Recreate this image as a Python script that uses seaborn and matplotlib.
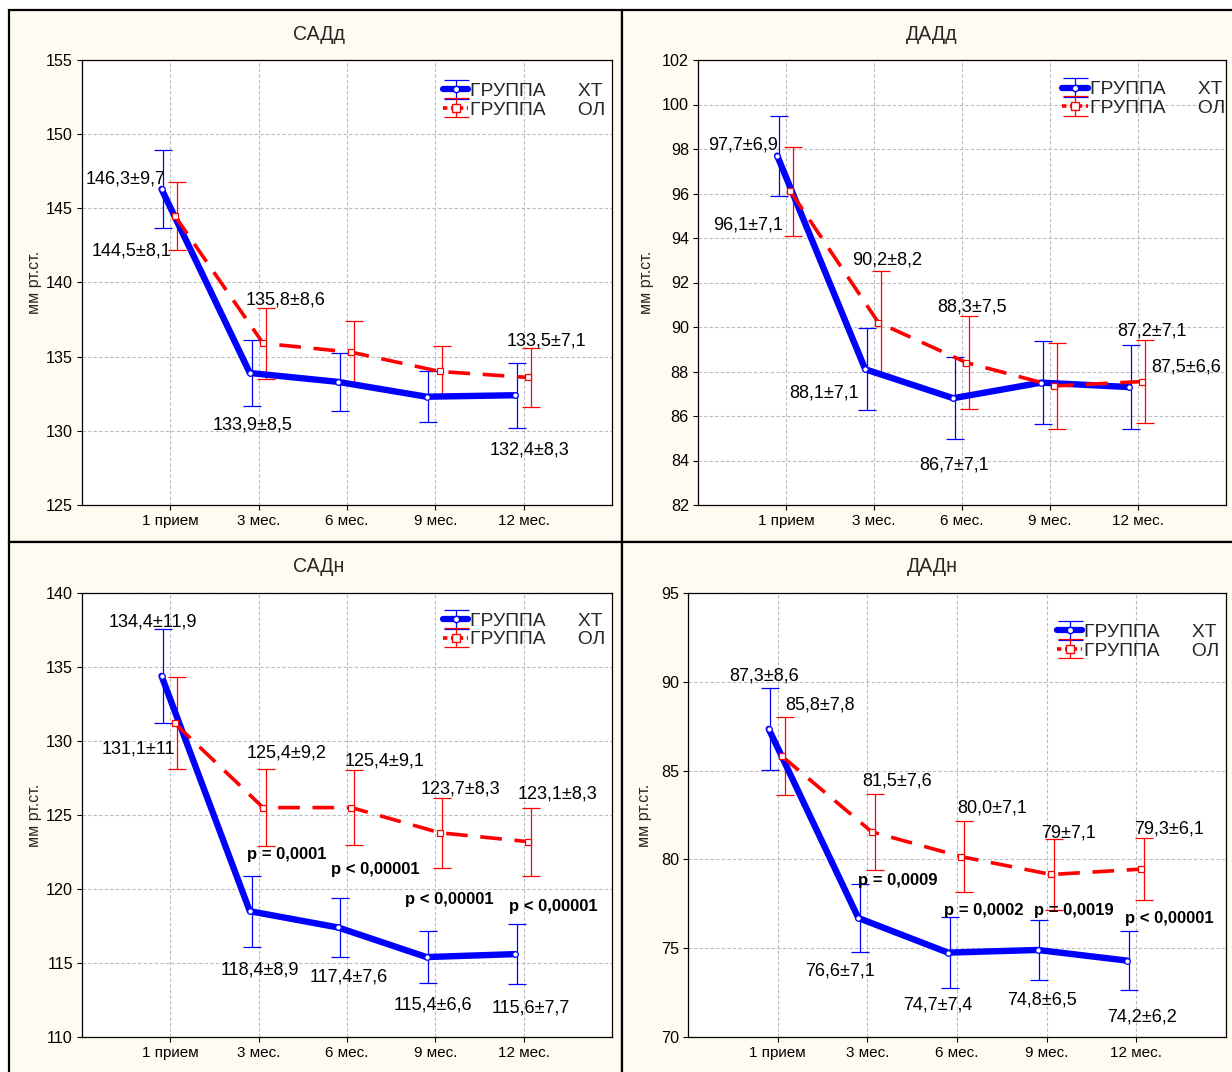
import numpy as np
import pandas as pd
import matplotlib
matplotlib.use("Agg")
import matplotlib.pyplot as plt
import seaborn as sns
from matplotlib import font_manager as fm
from matplotlib.patches import Rectangle

# ---------------- data ----------------
categories = ['1 прием', '3 мес.', '6 мес.', '9 мес.', '12 мес.']
group_labels = ['ГРУППА      ХТ', 'ГРУППА      ОЛ']

# САДд
sadd_xt = [146.3, 133.9, 133.3, 132.3, 132.4]
sadd_xt_err = [2.6, 2.25, 1.95, 1.7, 2.2]
sadd_ol = [144.5, 135.9, 135.3, 134.0, 133.6]
sadd_ol_err = [2.3, 2.4, 2.1, 1.75, 2.0]

# ДАДд
dadd_xt = [97.7, 88.1, 86.8, 87.5, 87.3]
dadd_xt_err = [1.8, 1.85, 1.85, 1.85, 1.9]
dadd_ol = [96.1, 90.2, 88.4, 87.35, 87.55]
dadd_ol_err = [2.0, 2.3, 2.1, 1.95, 1.85]

# САДн
sadn_xt = [134.4, 118.5, 117.4, 115.4, 115.6]
sadn_xt_err = [3.2, 2.4, 2.0, 1.75, 2.05]
sadn_ol = [131.2, 125.5, 125.5, 123.8, 123.2]
sadn_ol_err = [3.1, 2.6, 2.55, 2.35, 2.3]

# ДАДн
dadn_xt = [87.35, 76.7, 74.75, 74.9, 74.3]
dadn_xt_err = [2.3, 1.9, 2.0, 1.7, 1.65]
dadn_ol = [85.8, 81.55, 80.15, 79.15, 79.45]
dadn_ol_err = [2.2, 2.15, 2.0, 2.0, 1.75]

# value annotations
sadd_labels = ['146,3±9,7', '144,5±8,1', '135,8±8,6', '133,9±8,5', '133,5±7,1', '132,4±8,3']
dadd_labels = ['97,7±6,9', '96,1±7,1', '90,2±8,2', '88,3±7,5', '88,1±7,1', '86,7±7,1', '87,2±7,1', '87,5±6,6']
sadn_labels = ['134,4±11,9', '131,1±11', '125,4±9,2', '125,4±9,1', '123,7±8,3', '123,1±8,3',
               '118,4±8,9', '117,4±7,6', '115,4±6,6', '115,6±7,7']
sadn_pvals = ['p = 0,0001', 'p < 0,00001', 'p < 0,00001', 'p < 0,00001']
dadn_labels = ['87,3±8,6', '85,8±7,8', '81,5±7,6', '80,0±7,1', '79±7,1', '79,3±6,1',
               '76,6±7,1', '74,7±7,4', '74,8±6,5', '74,2±6,2']
dadn_pvals = ['p = 0,0009', 'p = 0,0002', 'p = 0,0019', 'p < 0,00001']

titles = ['САДд', 'ДАДд', 'САДн', 'ДАДн']
ylabel = 'мм рт.ст.'

# ---------------- layout (positions only) ----------------
sadd_label_pos = [(0.49, 147.0), (0.56, 142.1), (2.30, 138.8), (1.93, 130.4), (5.26, 136.05), (5.07, 128.7)]
dadd_label_pos = [(0.51, 98.18), (0.57, 94.58), (2.15, 93.0), (3.11, 90.9), (1.43, 87.03),
                  (2.91, 83.8), (5.16, 89.82), (5.55, 88.2)]
sadn_label_pos = [(0.80, 138.04), (0.64, 129.46), (2.32, 129.19), (3.42, 128.65), (4.28, 126.76),
                  (5.38, 126.42), (2.01, 114.53), (3.02, 114.05), (3.97, 112.16), (5.08, 111.96)]
sadn_p_pos = [(2.32, 122.36), (3.32, 121.35), (4.16, 119.26), (5.33, 118.8)]
dadn_label_pos = [(0.85, 90.33), (1.47, 88.69), (2.33, 84.41), (3.39, 82.9), (4.24, 81.5),
                  (5.37, 81.71), (1.70, 73.72), (2.79, 71.8), (3.95, 72.1), (5.06, 71.13)]
dadn_p_pos = [(2.34, 78.8), (3.30, 77.15), (4.30, 77.15), (5.37, 76.7)]

W, H = 1232, 1072
CREAM = '#FFFBF0'
BLUE = '#0000FF'
RED = '#FF0000'

sns.set_theme(style='white')
avail = {f.name for f in fm.fontManager.ttflist}
NARROW = 'Liberation Sans Narrow' if 'Liberation Sans Narrow' in avail else 'Liberation Sans'
narrow_scale = 1.0 if NARROW == 'Liberation Sans Narrow' else 0.88
plt.rcParams['font.family'] = ['Liberation Sans', 'DejaVu Sans']

fig = plt.figure(figsize=(W / 100, H / 100), dpi=100, facecolor='white')

# panel boxes
for (x0, y0, x1, y1) in [(9, 10, 622, 542), (622, 10, 1240, 542), (9, 542, 622, 1080), (622, 542, 1240, 1080)]:
    fig.patches.append(Rectangle((x0 / W, 1 - y1 / H), (x1 - x0) / W, (y1 - y0) / H,
                                 transform=fig.transFigure, facecolor=CREAM, edgecolor='black',
                                 linewidth=1.6, zorder=0))

axes_px = [(82, 60, 612, 505), (698, 60, 1226, 505), (82, 593, 612, 1037), (688, 593, 1226, 1037)]
title_px = [(319, 35), (932, 35), (319, 566), (932, 566)]
ylab_px = [(35, 282), (647, 282), (35, 815), (645, 815)]
legend_anchor = [(0.995, 0.958), (1.005, 0.962), (0.995, 0.965), (0.995, 0.94)]

panels = [
    (sadd_xt, sadd_xt_err, sadd_ol, sadd_ol_err, (125, 155), np.arange(125, 156, 5), sadd_labels, sadd_label_pos, [], []),
    (dadd_xt, dadd_xt_err, dadd_ol, dadd_ol_err, (82, 102), np.arange(82, 103, 2), dadd_labels, dadd_label_pos, [], []),
    (sadn_xt, sadn_xt_err, sadn_ol, sadn_ol_err, (110, 140), np.arange(110, 141, 5), sadn_labels, sadn_label_pos, sadn_pvals, sadn_p_pos),
    (dadn_xt, dadn_xt_err, dadn_ol, dadn_ol_err, (70, 95), np.arange(70, 96, 5), dadn_labels, dadn_label_pos, dadn_pvals, dadn_p_pos),
]

xpos = np.arange(1, len(categories) + 1)

for i, (xt, xt_e, ol, ol_e, ylim, yticks, labs, labpos, pv, pvpos) in enumerate(panels):
    l, t, r, b = axes_px[i]
    ax = fig.add_axes([l / W, 1 - b / H, (r - l) / W, (b - t) / H])
    ax.set_facecolor('white')
    ax.set_zorder(1)

    df = pd.DataFrame({
        'x': np.concatenate([xpos - 0.1, xpos + 0.05]),
        'y': np.concatenate([xt, ol]),
        'g': [group_labels[0]] * len(xt) + [group_labels[1]] * len(ol),
    })
    sns.lineplot(data=df[df['g'] == group_labels[0]], x='x', y='y', ax=ax, color=BLUE,
                 linewidth=4.6, marker='o', markersize=4, markerfacecolor='white',
                 markeredgecolor=BLUE, markeredgewidth=0.9, legend=False, zorder=4, sort=False)
    sns.lineplot(data=df[df['g'] == group_labels[1]], x='x', y='y', ax=ax, color=RED,
                 linewidth=2.6, linestyle=(0, (6, 3.5)), marker='s', markersize=4.5,
                 markerfacecolor='white', markeredgecolor=RED, markeredgewidth=0.9,
                 legend=False, zorder=4, sort=False)
    ax.errorbar(xpos - 0.08, xt, yerr=xt_e, fmt='none', ecolor=BLUE, elinewidth=0.9,
                capsize=6.5, capthick=0.9, zorder=3)
    ax.errorbar(xpos + 0.08, ol, yerr=ol_e, fmt='none', ecolor=RED, elinewidth=0.9,
                capsize=6.5, capthick=0.9, zorder=3)

    # legend proxies
    h1 = ax.errorbar([np.nan], [np.nan], yerr=[np.nan], fmt='-o', color=BLUE, lw=4.5, ms=4.5,
                     mfc='white', mec=BLUE, ecolor=BLUE, elinewidth=0.9, capsize=9, capthick=0.9)
    h2 = ax.errorbar([np.nan], [np.nan], yerr=[np.nan], fmt='s', linestyle=(0, (1.2, 1.0)), color=RED,
                     lw=2.6, ms=5.5, mfc='white', mec=RED, ecolor=RED, elinewidth=0.9, capsize=9, capthick=0.9)
    leg = ax.legend([h1, h2], group_labels, loc='upper right', bbox_to_anchor=legend_anchor[i],
                    frameon=False, handlelength=1.3, handletextpad=0.1, labelspacing=0.05,
                    borderaxespad=0.0, borderpad=0.2,
                    prop={'family': NARROW, 'size': 15.8 * narrow_scale})

    ax.set_xlim(0, 6)
    ax.set_ylim(*ylim)
    ax.set_xticks(xpos)
    ax.set_xticklabels(categories, fontfamily=NARROW, fontsize=12.5 * narrow_scale)
    ax.set_yticks(yticks)
    ax.set_yticklabels([str(v) for v in yticks], fontfamily=NARROW, fontsize=13.2 * narrow_scale)
    ax.tick_params(axis='both', direction='out', length=3.5, width=0.8, color='black', pad=3,
                   labelcolor='black', left=True, bottom=True)
    ax.grid(True, linestyle=(0, (3, 2)), color='#BBBBBB', linewidth=0.8)
    ax.set_axisbelow(True)
    for s in ax.spines.values():
        s.set_visible(True)
        s.set_color('black')
        s.set_linewidth(0.9)
    ax.set_xlabel('')
    ax.set_ylabel('')

    for txt, (tx, ty) in zip(labs, labpos):
        ax.text(tx, ty, txt, ha='center', va='center', fontsize=13, color='black',
                family='Liberation Sans', zorder=6)
    for txt, (tx, ty) in zip(pv, pvpos):
        ax.text(tx, ty, txt, ha='center', va='center', fontsize=12, fontweight='bold',
                color='black', family='Liberation Sans', zorder=6)

    tx, ty = title_px[i]
    fig.text(tx / W, 1 - ty / H, titles[i], ha='center', va='center',
             fontsize=16 * narrow_scale, family=NARROW)
    yx, yy = ylab_px[i]
    fig.text(yx / W, 1 - yy / H, ylabel, ha='center', va='center', rotation=90,
             fontsize=11.5, family='Liberation Sans')

fig.savefig('out.png', dpi=100, facecolor='white')
